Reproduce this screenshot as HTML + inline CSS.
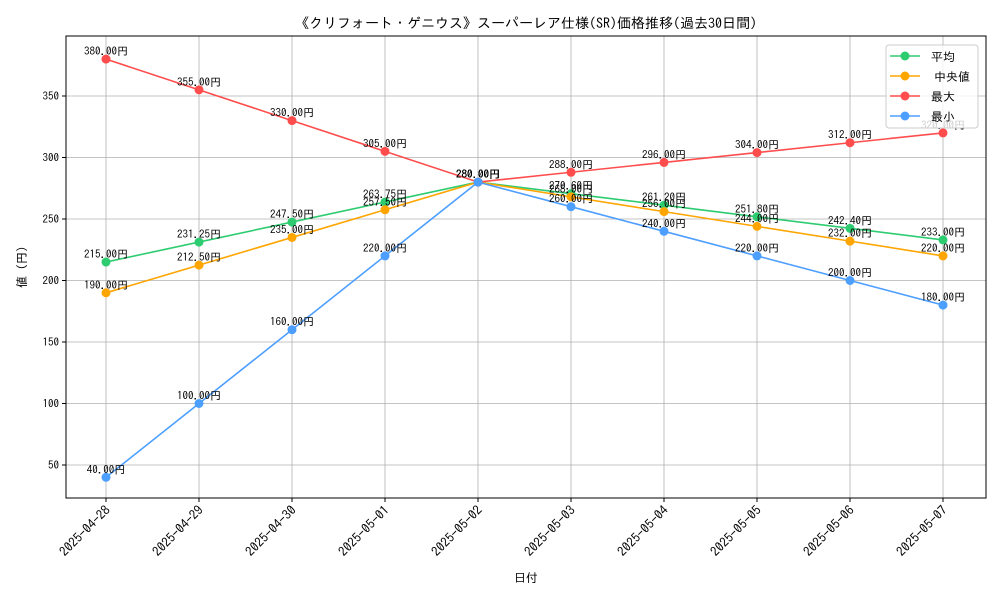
<!DOCTYPE html>
<html><head><meta charset="utf-8"><style>
body{margin:0;background:#fff}
svg text{font-family:"IPAGothic","Liberation Sans",sans-serif;fill:#000}
</style></head><body>
<svg id="c" width="1000" height="600"></svg>
<script>
const dates=["2025-04-28","2025-04-29","2025-04-30","2025-05-01","2025-05-02","2025-05-03","2025-05-04","2025-05-05","2025-05-06","2025-05-07"];
const avgVals=[215,231.25,247.5,263.75,280,270.6,261.2,251.8,242.4,233];
const medVals=[190,212.5,235,257.5,280,268,256,244,232,220];
const maxVals=[380,355,330,305,280,288,296,304,312,320];
const minVals=[40,100,160,220,280,260,240,220,200,180];
const yTicks=[50,100,150,200,250,300,350];
const seriesNames=["平均","中央値","最大","最小"];
const NS="http://www.w3.org/2000/svg";
const svg=document.getElementById('c');
const L=66,R=986,T=36,B=498;
const x=i=>106+i*93;
const y=v=>526.5-v*1.23;
function mk(t,a,p){const e=document.createElementNS(NS,t);for(const k in a)e.setAttribute(k,a[k]);(p||svg).appendChild(e);return e;}
yTicks.forEach(v=>{
 const g=mk('line',{x1:L,x2:R,y1:y(v),y2:y(v),stroke:'#b0b0b0','stroke-width':0.8});
 
 
 mk('line',{x1:L-4,x2:L,y1:y(v),y2:y(v),stroke:'#000'});
 const t=mk('text',{x:L-7,y:y(v)+4,'text-anchor':'end','font-size':11});t.textContent=v;
 
 
});
dates.forEach((d,i)=>{
 const g=mk('line',{x1:x(i),x2:x(i),y1:T,y2:B,stroke:'#b0b0b0','stroke-width':0.8});
 
 
 mk('line',{x1:x(i),x2:x(i),y1:B,y2:B+4,stroke:'#000'});
 const t=mk('text',{x:x(i)+5,y:B+13,'text-anchor':'end','font-size':13,transform:`rotate(-45 ${x(i)+5} ${B+13})`});t.textContent=d;
 
 
});
const fr=mk('rect',{x:L,y:T,width:R-L,height:B-T,fill:'none',stroke:'#000','stroke-width':1});


const series=[[avgVals,'#2ecc71'],[medVals,'#ffa500'],[maxVals,'#ff4d4d'],[minVals,'#4d9fff']];
series.forEach(([vals,col],si)=>{
 const p=mk('polyline',{points:vals.map((v,i)=>x(i)+','+y(v)).join(' '),fill:'none',stroke:col,'stroke-width':1.6});
 
 
 vals.forEach((v,i)=>{
  const c=mk('circle',{cx:x(i),cy:y(v),r:4.5,fill:col});
  
  
  const t=mk('text',{x:x(i),y:y(v)-4,'text-anchor':'middle','font-size':11});t.textContent=v.toFixed(2)+'円';
  
  
 });
});
const lg=mk('rect',{x:886,y:45,width:92,height:83,rx:3,fill:'#fff','fill-opacity':0.8,stroke:'#ccc'});


series.forEach(([v,col],i)=>{
 const yy=56+i*20;
 mk('line',{x1:890,x2:920,y1:yy,y2:yy,stroke:col,'stroke-width':1.6});
 mk('circle',{cx:905,cy:yy,r:4.5,fill:col});
 const t=mk('text',{x:i==1?934:931,y:yy+5,'font-size':12});t.textContent=seriesNames[i];
 
 
});
const ti=mk('text',{x:526,y:28,'text-anchor':'middle','font-size':14});ti.textContent='《クリフォート・ゲニウス》スーパーレア仕様(SR)価格推移(過去30日間)';


const xl=mk('text',{x:526,y:582,'text-anchor':'middle','font-size':12});xl.textContent='日付';


const yl=mk('text',{x:26,y:267,'text-anchor':'middle','font-size':12,transform:'rotate(-90 26 267)'});yl.textContent='値 (円)';


</script>
</body></html>
